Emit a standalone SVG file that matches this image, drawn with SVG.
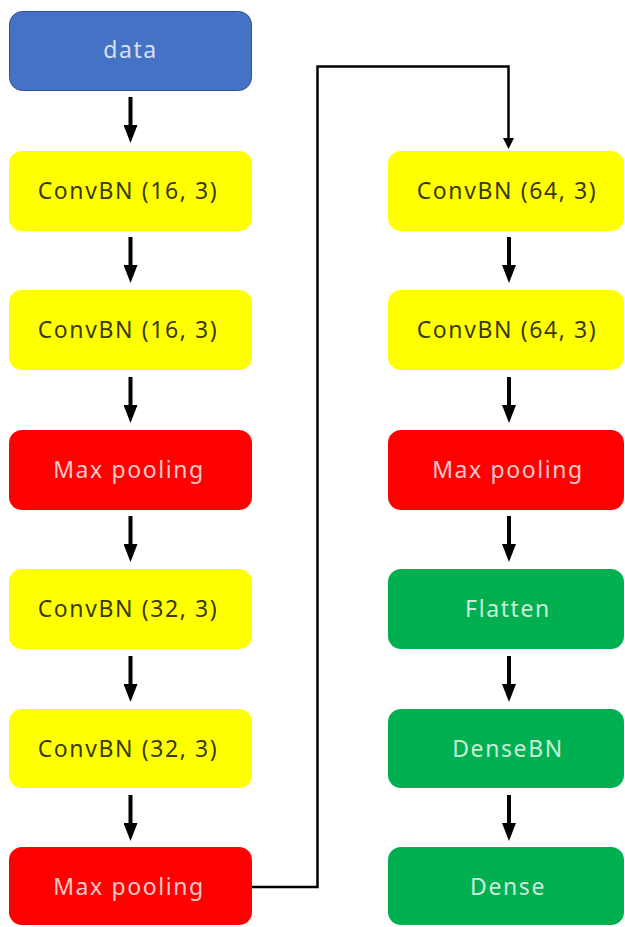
<svg xmlns="http://www.w3.org/2000/svg" width="625" height="927" viewBox="0 0 625 927">
  <style>
    .box { rx: 13px; ry: 13px; }
    .blue { fill: #4472C4; stroke: #2F528F; stroke-width: 1; }
    .yellow { fill: #FFFF00; }
    .red { fill: #FF0000; }
    .green { fill: #00B050; }
    text { font-family: "Noto Sans", "Liberation Sans", sans-serif; font-size: 23px; letter-spacing: 1.6px; text-anchor: middle; }
    .dark { fill: #000000; fill-opacity: 0.8; }
    .light { fill: #FFFFFF; fill-opacity: 0.8; }
    .step { stroke: #000000; stroke-width: 4; fill: none; marker-end: url(#head); }
    .link { stroke: #000000; stroke-width: 2.5; fill: none; marker-end: url(#headSmall); }
  </style>
  <defs>
    <marker id="head" markerUnits="userSpaceOnUse" markerWidth="18" markerHeight="14" refX="5" refY="7" orient="auto">
      <path d="M0,0 L18,7 L0,14 z" fill="#000000"/>
    </marker>
    <marker id="headSmall" markerUnits="userSpaceOnUse" markerWidth="11" markerHeight="11" refX="3" refY="5.5" orient="auto">
      <path d="M0,0 L11,5.5 L0,11 z" fill="#000000"/>
    </marker>
  </defs>

  <rect width="625" height="927" fill="#FFFFFF"/>

  <!-- left column -->
  <g id="data">
    <rect class="box blue" x="9.5" y="11.5" width="242" height="79"/>
    <text class="light" x="130.5" y="58">data</text>
  </g>
  <g id="conv16a">
    <rect class="box yellow" x="9" y="151" width="243" height="80"/>
    <text class="dark" x="128" y="199">ConvBN (16, 3)</text>
  </g>
  <g id="conv16b">
    <rect class="box yellow" x="9" y="290" width="243" height="80"/>
    <text class="dark" x="128" y="338">ConvBN (16, 3)</text>
  </g>
  <g id="pool1">
    <rect class="box red" x="9" y="430" width="243" height="80"/>
    <text class="light" x="129" y="478">Max pooling</text>
  </g>
  <g id="conv32a">
    <rect class="box yellow" x="9" y="569" width="243" height="80"/>
    <text class="dark" x="128" y="617">ConvBN (32, 3)</text>
  </g>
  <g id="conv32b">
    <rect class="box yellow" x="9" y="709" width="243" height="79"/>
    <text class="dark" x="128" y="757">ConvBN (32, 3)</text>
  </g>
  <g id="pool2">
    <rect class="box red" x="9" y="847" width="243" height="78"/>
    <text class="light" x="129" y="895">Max pooling</text>
  </g>

  <!-- right column -->
  <g id="conv64a">
    <rect class="box yellow" x="388" y="151" width="236" height="80"/>
    <text class="dark" x="507" y="199">ConvBN (64, 3)</text>
  </g>
  <g id="conv64b">
    <rect class="box yellow" x="388" y="290" width="236" height="80"/>
    <text class="dark" x="507" y="338">ConvBN (64, 3)</text>
  </g>
  <g id="pool3">
    <rect class="box red" x="388" y="430" width="236" height="80"/>
    <text class="light" x="508" y="478">Max pooling</text>
  </g>
  <g id="flatten">
    <rect class="box green" x="388" y="569" width="236" height="80"/>
    <text class="light" x="508" y="617">Flatten</text>
  </g>
  <g id="denseBN">
    <rect class="box green" x="388" y="709" width="236" height="79"/>
    <text class="light" x="508" y="757">DenseBN</text>
  </g>
  <g id="dense">
    <rect class="box green" x="388" y="847" width="236" height="78"/>
    <text class="light" x="508" y="895">Dense</text>
  </g>

  <!-- connectors -->
  <g id="connectors">
    <line class="step" x1="130.5" y1="97" x2="130.5" y2="130"/>
    <line class="step" x1="130.5" y1="237" x2="130.5" y2="270"/>
    <line class="step" x1="130.5" y1="377" x2="130.5" y2="410"/>
    <line class="step" x1="130.5" y1="516" x2="130.5" y2="549"/>
    <line class="step" x1="130.5" y1="656" x2="130.5" y2="689"/>
    <line class="step" x1="130.5" y1="795" x2="130.5" y2="828"/>

    <path class="link" d="M252,887 H317.5 V66.5 H508.5 V141"/>

    <line class="step" x1="509" y1="237" x2="509" y2="270"/>
    <line class="step" x1="509" y1="377" x2="509" y2="410"/>
    <line class="step" x1="509" y1="516" x2="509" y2="549"/>
    <line class="step" x1="509" y1="656" x2="509" y2="689"/>
    <line class="step" x1="509" y1="795" x2="509" y2="828"/>
  </g>
</svg>
